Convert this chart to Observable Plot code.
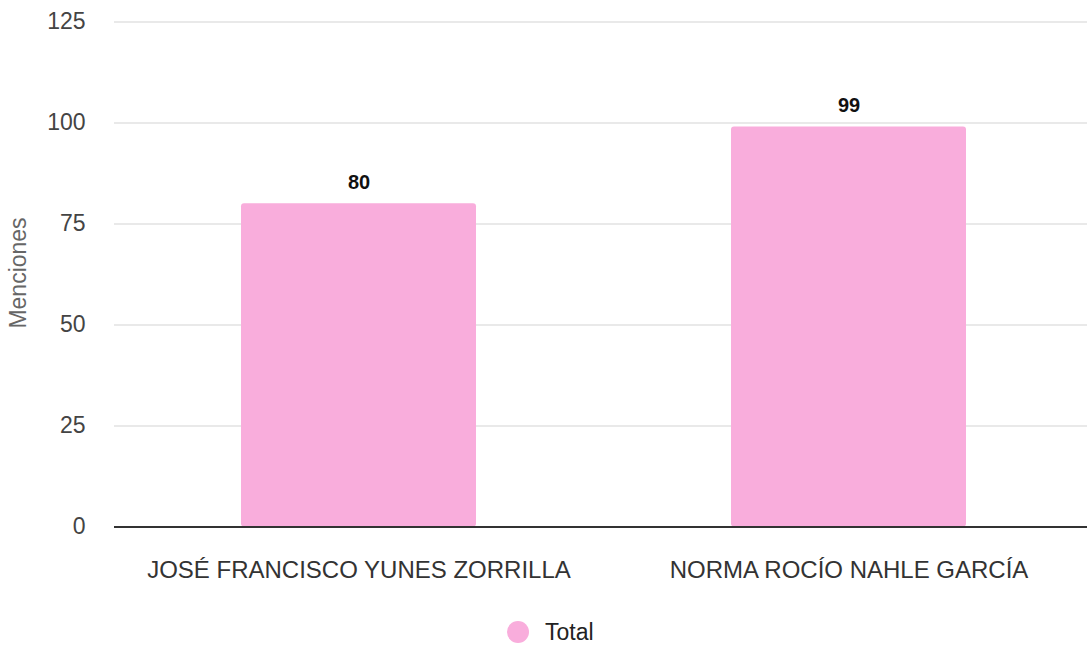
<!DOCTYPE html>
<html>
<head>
<meta charset="utf-8">
<script src="https://cdn.jsdelivr.net/npm/d3@7"></script>
<script src="https://cdn.jsdelivr.net/npm/@observablehq/plot@0.6"></script>
<style>
  html, body { margin: 0; padding: 0; background: #fff; overflow: hidden; }
  #wrap { position: relative; width: 1087px; height: 646px; font-family: Arial, "Liberation Sans", sans-serif; }
  #legend { position: absolute; left: 0; top: 600px; width: 1087px; height: 46px; }
  #legend .sw { position: absolute; left: 507px; top: 21px; width: 22px; height: 22px; border-radius: 50%; background: #f9addc; }
  #legend .lb { position: absolute; left: 545px; top: 18px; font-size: 23px; line-height: 28px; color: #222; }
</style>
</head>
<body>
<div id="wrap">
  <div id="chart"></div>
  <div id="legend"><div class="sw"></div><div class="lb" id="legendLabel"></div></div>
</div>
<script>
const candidates = ["JOSÉ FRANCISCO YUNES ZORRILLA", "NORMA ROCÍO NAHLE GARCÍA"];
const totals = [80, 99];
const yTicks = [0, 25, 50, 75, 100, 125];
const seriesName = "Total";
const yLabel = "Menciones";

const data = candidates.map((c, i) => ({candidate: c, total: totals[i]}));
const pink = "#f9addc";

const chart = Plot.plot({
  width: 1087,
  height: 600,
  marginLeft: 114,
  marginRight: 0,
  marginTop: 21.5,
  marginBottom: 73.5,
  style: {fontFamily: 'Arial, "Liberation Sans", sans-serif', background: "#fff"},
  x: {domain: candidates, range: [114, 1094], paddingInner: 0.52, paddingOuter: 0.26},
  y: {domain: [0, 125]},
  marks: [
    Plot.ruleY(yTicks.filter(d => d > 0), {stroke: "#e2e2e2", strokeWidth: 1.5}),
    Plot.barY(data, {x: "candidate", y: "total", fill: pink, rx: 3}),
    Plot.ruleY([0], {stroke: "#333", strokeWidth: 2}),
    Plot.text(data, {x: "candidate", y: "total", text: d => String(d.total), dy: -15, lineAnchor: "bottom", fontSize: 20, fontWeight: "bold", fill: "#111"}),
    Plot.axisY({ticks: yTicks, tickSize: 0, tickPadding: 29, fontSize: 23, color: "#444", label: null}),
    Plot.axisX({tickSize: 0, tickPadding: 33.5, fontSize: 24, color: "#333", label: null}),
    Plot.text([yLabel], {frameAnchor: "left", textAnchor: "middle", dx: -96, dy: -1.5, rotate: -90, fontSize: 23, fill: "#666"})
  ]
});
document.getElementById("chart").appendChild(chart);
document.getElementById("legendLabel").textContent = seriesName;
</script>
</body>
</html>
